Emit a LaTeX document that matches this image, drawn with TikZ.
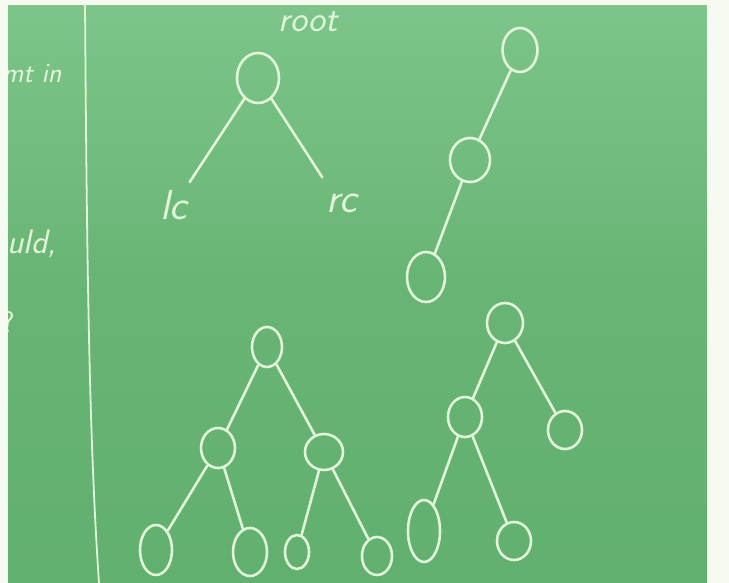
\documentclass[tikz,border=0pt]{standalone}
\usepackage{fontspec}
\usepackage{tikz}
\usetikzlibrary{shapes.geometric}
\definecolor{board}{HTML}{62B06F}
\definecolor{boardlight}{HTML}{7DC58A}
\definecolor{chalk}{HTML}{E2F4D8}
\definecolor{paper}{HTML}{F6FBF2}

\begin{document}
\begin{tikzpicture}[x=1pt,y=-1pt,line cap=round,
  chalkline/.style={chalk,line width=2.6pt},
  vtx/.style={ellipse,draw=chalk,line width=2.6pt,inner sep=0pt},
  scrawl/.style={chalk,font=\sffamily\itshape,inner sep=0pt}]
  \useasboundingbox (0,0) rectangle (729,583);
  \shade[top color=boardlight,bottom color=board,middle color=board!80!boardlight] (0,0) rectangle (729,583);
  % writing at the left edge
  \node[scrawl,font=\sffamily\itshape\fontsize{28}{32}\selectfont] (word1) at (32,74) {mt in};
  \node[scrawl,font=\sffamily\itshape\fontsize{34}{38}\selectfont] (word2) at (32,244) {uld,};
  \node[scrawl,font=\sffamily\fontsize{30}{34}\selectfont] (word3) at (8,322) {?};
  \draw[chalk,line width=1.8pt] (85,0) .. controls (87,300) and (90,450) .. (99,583);
  % root with two children
  \node[vtx,minimum width=42pt,minimum height=50pt] (root) at (258,78) {};
  \node[scrawl,font=\sffamily\itshape\fontsize{36}{40}\selectfont] (rootlbl) at (308,22) {root};
  \node[scrawl,font=\sffamily\itshape\fontsize{42}{46}\selectfont] (lc) at (174,205) {lc};
  \node[scrawl,font=\sffamily\itshape\fontsize{42}{46}\selectfont] (rc) at (342,203) {rc};
  \draw[chalkline] (root) -- ([xshift=2pt,yshift=8pt]lc.north east);
  \draw[chalkline] (root) -- ([xshift=-4pt,yshift=16pt]rc.north west);
  % chain
  \node[vtx,minimum width=35pt,minimum height=44pt] (ch1) at (520,50) {};
  \node[vtx,minimum width=40pt,minimum height=44pt] (ch2) at (470,160) {};
  \node[vtx,minimum width=38pt,minimum height=50pt] (ch3) at (426,277) {};
  \draw[chalkline] (ch1) -- (ch2);
  \draw[chalkline] (ch2) -- (ch3);
  % complete tree
  \node[vtx,minimum width=30pt,minimum height=40pt] (ct) at (267,347) {};
  \node[vtx,minimum width=34pt,minimum height=40pt] (ctl) at (218,448) {};
  \node[vtx,minimum width=38pt,minimum height=36pt] (ctr) at (324,452) {};
  \node[vtx,minimum width=32pt,minimum height=50pt] (ctll) at (156,550) {};
  \node[vtx,minimum width=34pt,minimum height=48pt] (ctlr) at (250,552) {};
  \node[vtx,minimum width=24pt,minimum height=34pt] (ctrl) at (297,552) {};
  \node[vtx,minimum width=30pt,minimum height=38pt] (ctrr) at (377,556) {};
  \draw[chalkline] (ct) -- (ctl);
  \draw[chalkline] (ct) -- (ctr);
  \draw[chalkline] (ctl) -- (ctll);
  \draw[chalkline] (ctl) -- (ctlr);
  \draw[chalkline] (ctr) -- (ctrl);
  \draw[chalkline] (ctr) -- (ctrr);
  % uneven tree
  \node[vtx,minimum width=36pt,minimum height=40pt] (ut) at (505,323) {};
  \node[vtx,minimum width=34pt,minimum height=40pt] (utl) at (465,417) {};
  \node[vtx,minimum width=34pt,minimum height=38pt] (utr) at (565,430) {};
  \node[vtx,minimum width=32pt,minimum height=62pt] (utll) at (424,531) {};
  \node[vtx,minimum width=34pt,minimum height=38pt] (utlr) at (514,541) {};
  \draw[chalkline] (ut) -- (utl);
  \draw[chalkline] (ut) -- (utr);
  \draw[chalkline] (utl) -- (utll);
  \draw[chalkline] (utl) -- (utlr);
  % edges of the photo
  \fill[paper] (0,0) rectangle (8,583);
  \fill[paper] (0,0) rectangle (729,5);
  \fill[paper] (707,0) rectangle (729,583);
\end{tikzpicture}
\end{document}
